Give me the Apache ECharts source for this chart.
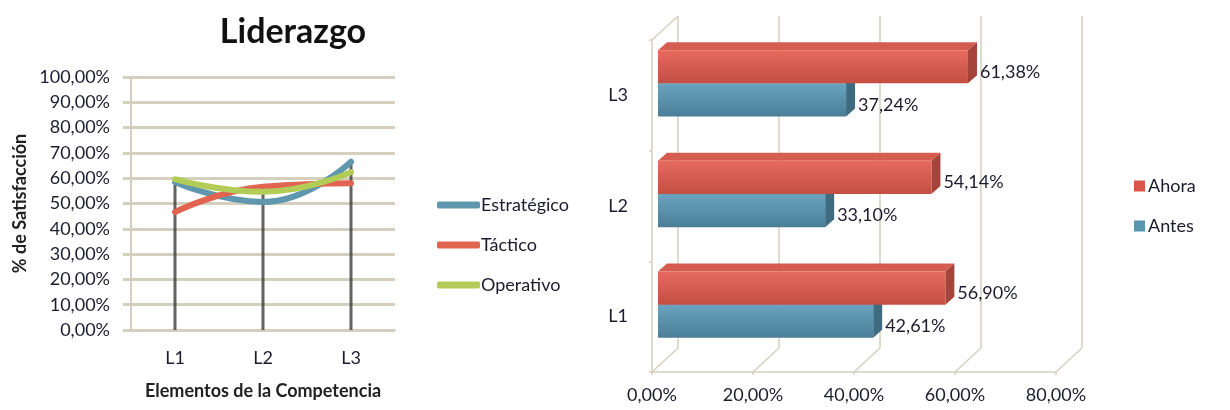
<!DOCTYPE html>
<html>
<head>
<meta charset="utf-8">
<script src="https://cdn.jsdelivr.net/npm/echarts@6/dist/echarts.min.js"></script>
<style>
  html, body { margin: 0; padding: 0; background: #fff; }
  #chart { width: 1230px; height: 410px; }
</style>
</head>
<body>
<div id="chart"></div>
<script>
// left chart: Liderazgo lines
const categories = ["L1", "L2", "L3"];
const estrategico = [58.5, 50.6, 66.5];
const tactico = [46.6, 56.6, 58.0];
const operativo = [59.6, 54.6, 62.4];

// right chart: 3D bars
const ahora = [56.90, 54.14, 61.38];
const antes = [42.61, 33.10, 37.24];
const pctTicks = [0, 20, 40, 60, 80];

const FONT = 'Lato, "Open Sans", sans-serif';
const TXT = "#1c1c2e";
const TAN = "#d4d0bd";

// 3D offsets (px)
const WALL_DX = 26, WALL_DY = -24;
const BAR_DX = 6, BAR_DY = -12;
const DEPTH_DX = 9, DEPTH_DY = -8;

const pct = v => v.toFixed(2).replace(".", ",") + "%";
const dropTops = categories.map((_, i) => Math.max(estrategico[i], tactico[i], operativo[i]));

function grad(top, bottom) {
  return new echarts.graphic.LinearGradient(0, 0, 0, 1, [
    { offset: 0, color: top },
    { offset: 1, color: bottom },
  ]);
}

function bar3d(slot, colors) {
  return function (params, api) {
    const val = api.value(0);
    const cat = api.value(1);
    const base = api.coord([0, cat]);
    const end = api.coord([val, cat]);
    const band = api.size([0, 1])[1];
    const h = band * 0.3;
    const y0 = base[1] + BAR_DY + (slot === 0 ? -h : 0);
    const x0 = base[0] + BAR_DX;
    const x1 = end[0] + BAR_DX;
    return {
      type: "group",
      children: [
        {
          type: "polygon",
          shape: { points: [[x0, y0], [x0 + DEPTH_DX, y0 + DEPTH_DY], [x1 + DEPTH_DX, y0 + DEPTH_DY], [x1, y0]] },
          style: { fill: colors.top },
        },
        {
          type: "polygon",
          shape: { points: [[x1, y0], [x1 + DEPTH_DX, y0 + DEPTH_DY], [x1 + DEPTH_DX, y0 + h + DEPTH_DY], [x1, y0 + h]] },
          style: { fill: colors.side },
        },
        {
          type: "rect",
          shape: { x: x0, y: y0, width: x1 - x0, height: h },
          style: { fill: grad(colors.front[0], colors.front[1]) },
        },
        {
          type: "text",
          style: {
            text: pct(val),
            x: x1 + DEPTH_DX + 3,
            y: y0 + h / 2 + 5,
            verticalAlign: "middle",
            font: "18px " + FONT,
            fill: TXT,
          },
        },
      ],
    };
  };
}

function wallFrame(params, api) {
  const v = api.value(0);
  const p = api.coord([v, 0]);
  const band = api.size([0, 1])[1];
  const yb = p[1] + band / 2;
  const style = { stroke: TAN, lineWidth: 1.5 };
  const children = [
    { type: "line", shape: { x1: p[0], y1: yb, x2: p[0] + WALL_DX, y2: yb + WALL_DY }, style },
  ];
  if (v === 0) {
    const yt = yb - categories.length * band;
    children.push({ type: "line", shape: { x1: p[0], y1: yt, x2: p[0] + WALL_DX, y2: yt + WALL_DY }, style });
  }
  return { type: "group", children };
}

const chart = echarts.init(document.getElementById("chart"));

chart.setOption({
  backgroundColor: "#fff",
  animation: false,
  textStyle: { fontFamily: FONT },
  title: {
    text: "Liderazgo",
    left: 288,
    top: 10,
    textAlign: "center",
    textStyle: { fontFamily: FONT, fontSize: 34, fontWeight: "bold", color: "#111" },
  },
  legend: [
    {
      data: ["Estratégico", "Táctico", "Operativo"],
      orient: "vertical",
      left: 432,
      top: 191,
      icon: "roundRect",
      itemWidth: 43,
      itemHeight: 7,
      itemGap: 22,
      textStyle: { fontFamily: FONT, fontSize: 18, color: TXT, padding: [0, 0, 0, -4] },
    },
    {
      data: ["Ahora", "Antes"],
      orient: "vertical",
      left: 1129,
      top: 172,
      icon: "rect",
      itemWidth: 11,
      itemHeight: 11,
      itemGap: 22,
      textStyle: { fontFamily: FONT, fontSize: 18, color: TXT, padding: [0, 0, 0, -2] },
    },
  ],
  grid: [
    { left: 131, top: 77, width: 264, height: 253 },
    { left: 652, top: 40, width: 404, height: 332 },
    { left: 652 + WALL_DX, top: 40 + WALL_DY, width: 404, height: 332 },
  ],
  xAxis: [
    {
      gridIndex: 0,
      type: "category",
      data: categories,
      axisLine: { show: true, lineStyle: { color: TAN, width: 2 } },
      axisTick: { show: false },
      axisLabel: { margin: 19, fontSize: 18, color: TXT, fontFamily: FONT },
      name: "Elementos de la Competencia",
      nameLocation: "middle",
      nameGap: 52,
      nameTextStyle: { fontSize: 18, fontWeight: "bold", color: "#222", fontFamily: FONT },
    },
    {
      gridIndex: 1,
      type: "value",
      min: 0,
      max: 80,
      interval: 20,
      axisLine: { show: true, lineStyle: { color: TAN, width: 1.5 } },
      axisTick: { show: true, length: 3, lineStyle: { color: TAN, width: 1.5 } },
      axisLabel: { margin: 14, fontSize: 18, color: TXT, fontFamily: FONT, formatter: pct },
      splitLine: { show: false },
    },
    {
      gridIndex: 2,
      type: "value",
      min: 0,
      max: 80,
      interval: 20,
      axisLine: { show: false },
      axisTick: { show: false },
      axisLabel: { show: false },
      splitLine: { show: true, lineStyle: { color: TAN, width: 1.5 } },
    },
  ],
  yAxis: [
    {
      gridIndex: 0,
      type: "value",
      min: 0,
      max: 100,
      interval: 10,
      axisLine: { show: true, lineStyle: { color: TAN, width: 2 } },
      axisTick: { show: true, length: 8, lineStyle: { color: TAN, width: 3 } },
      axisLabel: { margin: 21, fontSize: 18, color: TXT, fontFamily: FONT, formatter: pct },
      splitLine: { show: true, lineStyle: { color: TAN, width: 3 } },
      name: "% de Satisfacción",
      nameLocation: "middle",
      nameGap: 102,
      nameTextStyle: { fontSize: 18, fontWeight: "bold", color: "#222", fontFamily: FONT },
    },
    {
      gridIndex: 1,
      type: "category",
      data: categories,
      axisLine: { show: true, lineStyle: { color: TAN, width: 1.5 } },
      axisTick: { show: true, length: 3, lineStyle: { color: TAN, width: 1.5 } },
      axisLabel: { margin: 24, fontSize: 18, color: TXT, fontFamily: FONT },
    },
    {
      gridIndex: 2,
      type: "value",
      show: false,
    },
  ],
  series: [
    {
      name: "drop",
      type: "bar",
      xAxisIndex: 0,
      yAxisIndex: 0,
      data: dropTops,
      barWidth: 3,
      itemStyle: { color: "rgba(60,60,60,0.8)" },
      silent: true,
      z: 1,
    },
    {
      name: "Estratégico",
      type: "line",
      xAxisIndex: 0,
      yAxisIndex: 0,
      data: estrategico,
      smooth: 0.5,
      symbol: "none",
      color: "#5f97ae",
      lineStyle: { width: 6, color: "#5f97ae", cap: "round" },
      z: 3,
    },
    {
      name: "Táctico",
      type: "line",
      xAxisIndex: 0,
      yAxisIndex: 0,
      data: tactico,
      smooth: 0.5,
      symbol: "none",
      color: "#e0644f",
      lineStyle: { width: 6, color: "#e0644f", cap: "round" },
      z: 3,
    },
    {
      name: "Operativo",
      type: "line",
      xAxisIndex: 0,
      yAxisIndex: 0,
      data: operativo,
      smooth: 0.5,
      symbol: "none",
      color: "#b3cc58",
      lineStyle: { width: 6, color: "#b3cc58", cap: "round" },
      z: 3,
    },
    {
      name: "frame",
      type: "custom",
      xAxisIndex: 1,
      yAxisIndex: 1,
      data: pctTicks.map(v => [v, 0]),
      encode: { x: 0, y: 1 },
      renderItem: wallFrame,
      silent: true,
      clip: false,
      z: 1,
    },
    {
      name: "Antes",
      type: "custom",
      xAxisIndex: 1,
      yAxisIndex: 1,
      data: antes.map((v, i) => [v, i]),
      encode: { x: 0, y: 1 },
      itemStyle: { color: "#5a95b0" },
      renderItem: bar3d(1, { front: ["#69a3bf", "#4a7e97"], top: "#5e97b1", side: "#3f6b80" }),
      clip: false,
      z: 3,
    },
    {
      name: "Ahora",
      type: "custom",
      xAxisIndex: 1,
      yAxisIndex: 1,
      data: ahora.map((v, i) => [v, i]),
      encode: { x: 0, y: 1 },
      itemStyle: { color: "#d9574a" },
      renderItem: bar3d(0, { front: ["#e56b5d", "#c44e42"], top: "#d55d4f", side: "#a5443a" }),
      clip: false,
      z: 4,
    },
  ],
});
</script>
</body>
</html>
